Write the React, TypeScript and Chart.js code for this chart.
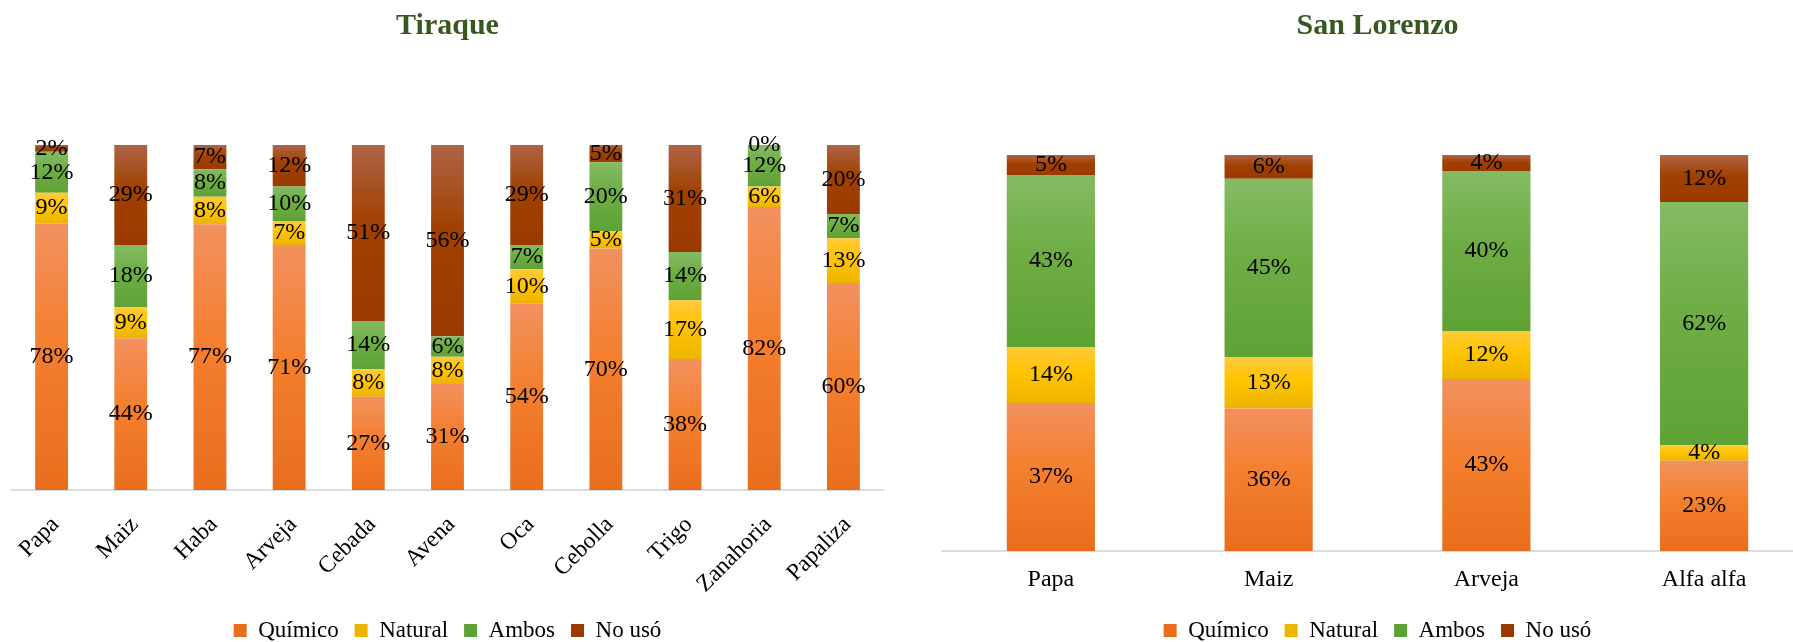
import React, { useEffect, useRef } from 'react';
import { Chart, registerables } from 'chart.js';

Chart.register(...registerables);

const FONT = "'Liberation Serif', 'Times New Roman', serif";

const SERIES_NAMES = ['Químico', 'Natural', 'Ambos', 'No usó'];

const TIRAQUE_TITLE = 'Tiraque';
const TIRAQUE_CATEGORIES = ['Papa', 'Maiz', 'Haba', 'Arveja', 'Cebada', 'Avena', 'Oca', 'Cebolla', 'Trigo', 'Zanahoria', 'Papaliza'];
const TIRAQUE_QUIMICO = [78, 44, 77, 71, 27, 31, 54, 70, 38, 82, 60];
const TIRAQUE_NATURAL = [9, 9, 8, 7, 8, 8, 10, 5, 17, 6, 13];
const TIRAQUE_AMBOS = [12, 18, 8, 10, 14, 6, 7, 20, 14, 12, 7];
const TIRAQUE_NO_USO = [2, 29, 7, 12, 51, 56, 29, 5, 31, 0, 20];

const SAN_LORENZO_TITLE = 'San Lorenzo';
const SAN_LORENZO_CATEGORIES = ['Papa', 'Maiz', 'Arveja', 'Alfa alfa'];
const SAN_LORENZO_QUIMICO = [37, 36, 43, 23];
const SAN_LORENZO_NATURAL = [14, 13, 12, 4];
const SAN_LORENZO_AMBOS = [43, 45, 40, 62];
const SAN_LORENZO_NO_USO = [5, 6, 4, 12];

const COLORS = [
  { top: '#F2915E', mid: '#F47F2E', bottom: '#E86E1C', solid: '#F07B30' },
  { top: '#FFCA3A', mid: '#FFC400', bottom: '#EDB400', solid: '#FFC000' },
  { top: '#84BB64', mid: '#6EAD44', bottom: '#5FA234', solid: '#70AD47' },
  { top: '#AE6446', mid: '#A04000', bottom: '#9A3A00', solid: '#A0460F' },
];

function gradientFor(ctx: any, i: number) {
  const c = COLORS[i];
  if (!ctx || ctx.type !== 'data') return c.solid;
  const chart = ctx.chart;
  const yScale = chart.scales && chart.scales.y;
  if (!yScale || !chart.chartArea) return c.solid;
  const j = ctx.dataIndex;
  let start = 0;
  for (let k = 0; k < i; k++) start += chart.data.datasets[k].data[j];
  const end = start + chart.data.datasets[i].data[j];
  const yTop = yScale.getPixelForValue(end);
  const yBot = yScale.getPixelForValue(start);
  if (!(yBot - yTop > 0.5)) return c.solid;
  const g = chart.ctx.createLinearGradient(0, yTop, 0, yBot);
  g.addColorStop(0, c.top);
  g.addColorStop(0.45, c.mid);
  g.addColorStop(1, c.bottom);
  return g;
}

const valueLabelPlugin = {
  id: 'valueLabels',
  afterDatasetsDraw(chart: any) {
    const ctx = chart.ctx;
    ctx.save();
    ctx.font = `24px ${FONT}`;
    ctx.fillStyle = '#000000';
    ctx.textAlign = 'center';
    ctx.textBaseline = 'middle';
    chart.data.datasets.forEach((ds: any, i: number) => {
      const meta = chart.getDatasetMeta(i);
      meta.data.forEach((el: any, j: number) => {
        const p = el.getProps(['x', 'y', 'base'], true);
        ctx.fillText(ds.rawValues[j] + '%', p.x, (p.y + p.base) / 2);
      });
    });
    ctx.restore();
  },
};

type Props = {
  left: number;
  title: string;
  titlePadBottom: number;
  categories: string[];
  series: number[][];
  axisHeight: number;
  tickSize: number;
  tickPadding: number;
  rotation: number;
  labelOffset: number;
  barPct: number;
};

function StackedChart(props: Props) {
  const ref = useRef<HTMLCanvasElement | null>(null);
  useEffect(() => {
    if (!ref.current) return;
    const { categories, series } = props;
    const totals = categories.map((_, j) => series.reduce((s, arr) => s + arr[j], 0));
    const datasets = series.map((vals, i) => ({
      label: SERIES_NAMES[i],
      data: vals.map((v, j) => (v / totals[j]) * 100),
      rawValues: vals,
      backgroundColor: (ctx: any) => gradientFor(ctx, i),
      borderWidth: 0,
      barPercentage: props.barPct,
      categoryPercentage: 1,
    }));
    const chart = new Chart(ref.current, {
      type: 'bar',
      data: { labels: categories, datasets: datasets as any },
      options: {
        responsive: false,
        animation: false,
        devicePixelRatio: 1,
        layout: { padding: { left: 12, right: 12, top: 0, bottom: 0 } },
        scales: {
          x: {
            stacked: true,
            grid: { display: false, drawTicks: false },
            border: { display: true, color: '#D9DDE3', width: 2 },
            ticks: {
              color: '#000000',
              font: { family: FONT, size: props.tickSize },
              padding: props.tickPadding,
              minRotation: props.rotation,
              maxRotation: props.rotation,
              autoSkip: false,
              labelOffset: props.labelOffset,
            },
            afterFit: (scale: any) => {
              scale.height = props.axisHeight;
              scale.paddingLeft = 0;
              scale.paddingRight = 0;
            },
          },
          y: {
            stacked: true,
            display: false,
            min: 0,
            max: 100,
          },
        },
        plugins: {
          title: {
            display: true,
            text: props.title,
            color: '#385723',
            font: { family: FONT, size: 30, weight: 'bold', lineHeight: 1.2 },
            padding: { top: 8, bottom: props.titlePadBottom },
          },
          legend: {
            display: true,
            position: 'bottom',
            labels: {
              color: '#000000',
              boxWidth: 13,
              boxHeight: 13,
              padding: 16,
              font: { family: FONT, size: 23 },
            },
          },
          tooltip: { enabled: false },
        },
      } as any,
      plugins: [valueLabelPlugin],
    });
    return () => chart.destroy();
  }, []);
  return (
    <canvas
      ref={ref}
      width={895}
      height={652}
      style={{ position: 'absolute', left: props.left, top: 0, width: 895, height: 652 }}
    />
  );
}

export default function App() {
  return (
    <div
      style={{
        position: 'fixed',
        left: 0,
        top: 0,
        width: 1793,
        height: 642,
        overflow: 'hidden',
        background: '#ffffff',
      }}
    >
      <StackedChart
        left={0}
        title={TIRAQUE_TITLE}
        titlePadBottom={101}
        categories={TIRAQUE_CATEGORIES}
        series={[TIRAQUE_QUIMICO, TIRAQUE_NATURAL, TIRAQUE_AMBOS, TIRAQUE_NO_USO]}
        axisHeight={113}
        tickSize={23.5}
        tickPadding={21}
        rotation={45}
        labelOffset={4}
        barPct={0.415}
      />
      <StackedChart
        left={930}
        title={SAN_LORENZO_TITLE}
        titlePadBottom={111}
        categories={SAN_LORENZO_CATEGORIES}
        series={[SAN_LORENZO_QUIMICO, SAN_LORENZO_NATURAL, SAN_LORENZO_AMBOS, SAN_LORENZO_NO_USO]}
        axisHeight={52}
        tickSize={24}
        tickPadding={14}
        rotation={0}
        labelOffset={0}
        barPct={0.405}
      />
    </div>
  );
}
